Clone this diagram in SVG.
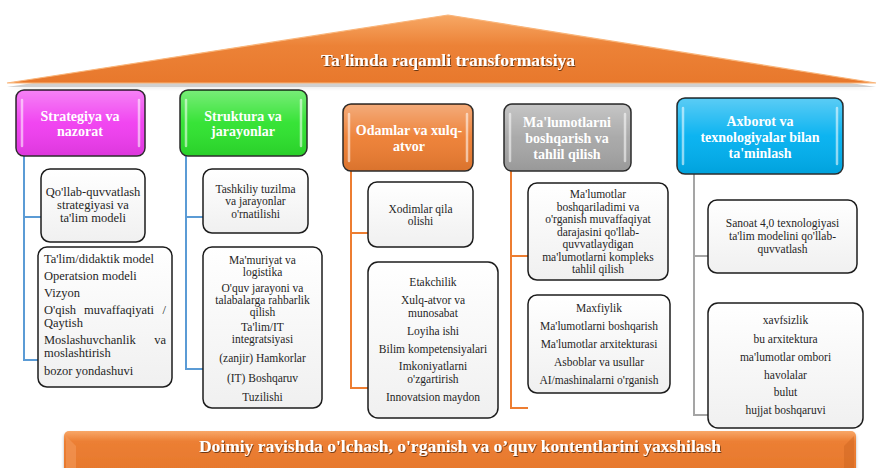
<svg xmlns="http://www.w3.org/2000/svg" width="878" height="468" viewBox="0 0 878 468">
<defs>
<linearGradient id="roofG" x1="0" y1="0" x2="0" y2="1">
<stop offset="0" stop-color="#f7a865"/><stop offset="0.45" stop-color="#ec8237"/><stop offset="1" stop-color="#e8782c"/>
</linearGradient>
<linearGradient id="banG" x1="0" y1="0" x2="0" y2="1">
<stop offset="0" stop-color="#f8a768"/><stop offset="0.25" stop-color="#ec7f34"/><stop offset="1" stop-color="#e6772b"/>
</linearGradient>
<linearGradient id="boxG" x1="0" y1="0" x2="0" y2="1">
<stop offset="0" stop-color="#ffffff"/><stop offset="1" stop-color="#f0f0f0"/>
</linearGradient>
<linearGradient id="gloss" x1="0" y1="0" x2="0" y2="1">
<stop offset="0" stop-color="#ffffff" stop-opacity="0.35"/><stop offset="0.5" stop-color="#ffffff" stop-opacity="0.05"/><stop offset="1" stop-color="#000000" stop-opacity="0.08"/>
</linearGradient>
<filter id="ts" x="-10%" y="-30%" width="120%" height="160%">
<feDropShadow dx="0.8" dy="1" stdDeviation="0.6" flood-color="#000" flood-opacity="0.55"/>
</filter>
<filter id="sh" x="-10%" y="-10%" width="120%" height="130%">
<feDropShadow dx="0" dy="2" stdDeviation="1.5" flood-color="#000" flood-opacity="0.3"/>
</filter>
</defs>
<style>
.hd{stroke:#2b2b2b;stroke-width:1.5}
.hl{fill:none;stroke:#ffffff;stroke-opacity:0.55;stroke-width:2.5;stroke-linecap:round}
.ht{font-family:"Liberation Serif","Times New Roman",serif;font-weight:bold;font-size:14px;fill:#ffffff;text-anchor:middle;dominant-baseline:central}
.bx{fill:url(#boxG);stroke:#1c1c1c;stroke-width:1.5}
.bt{font-family:"Liberation Serif","Times New Roman",serif;font-size:11.5px;fill:#262626;text-anchor:middle;dominant-baseline:central}
.b1{font-size:12.5px}
.bl{text-anchor:start}
.br{text-anchor:end}
.cb{fill:none;stroke:#5b9bd5;stroke-width:2}
.co{fill:none;stroke:#ed7d31;stroke-width:2}
.cg{fill:none;stroke:#a5a5a5;stroke-width:2}
.big{font-family:"Liberation Serif","Times New Roman",serif;font-weight:bold;fill:#ffffff;text-anchor:middle;dominant-baseline:central}
</style>
<rect width="878" height="468" fill="#ffffff"/>

<g id="roof">
<polygon points="7,84 448,16 876,84" fill="#000" opacity="0.18" transform="translate(0,3)" filter="url(#sh)"/>
<polygon points="7,83 448,15 876,83" fill="url(#roofG)" stroke="#f9b57a" stroke-width="1.2"/>
<text class="big" x="448" y="60" font-size="17.5" filter="url(#ts)">Ta'limda raqamli transformatsiya</text>
</g>

<g id="connectors">
<path class="cb" d="M24,156 V360 H38 M24,217 H41"/>
<path class="cb" d="M186,156 V369 H203 M186,217 H203"/>
<path class="co" d="M351,171 V388 H368 M351,233 H368"/>
<path class="co" d="M511,171 V408 H528 M511,256 H528"/>
<path class="cg" d="M694,174 V415 H708 M694,256 H708"/>
</g>

<g id="h1">
<rect class="hd" x="16" y="90" width="129" height="66" rx="8" fill="#f03cf0"/>
<rect x="17" y="91" width="127" height="64" rx="7" fill="url(#gloss)"/>
<path class="hl" d="M22,100 V146 M139,100 V146"/>
<text class="ht" x="80" y="116">Strategiya va</text>
<text class="ht" x="80" y="131">nazorat</text>
</g>
<g id="h2">
<rect class="hd" x="180" y="90" width="127" height="66" rx="8" fill="#2de22d"/>
<rect x="181" y="91" width="125" height="64" rx="7" fill="url(#gloss)"/>
<path class="hl" d="M186,100 V146 M301,100 V146"/>
<text class="ht" x="243" y="116">Struktura va</text>
<text class="ht" x="243" y="131">jarayonlar</text>
</g>
<g id="h3">
<rect class="hd" x="343" y="104" width="130" height="67" rx="8" fill="#ed7d31"/>
<rect x="344" y="105" width="128" height="65" rx="7" fill="url(#gloss)"/>
<path class="hl" d="M349,114 V161 M467,114 V161"/>
<text class="ht" x="409" y="130">Odamlar va xulq-</text>
<text class="ht" x="409" y="146">atvor</text>
</g>
<g id="h4">
<rect class="hd" x="504" y="104" width="127" height="67" rx="8" fill="#a6a6a6"/>
<rect x="505" y="105" width="125" height="65" rx="7" fill="url(#gloss)"/>
<path class="hl" d="M510,114 V161 M625,114 V161"/>
<text class="ht" x="567" y="122">Ma'lumotlarni</text>
<text class="ht" x="567" y="138">boshqarish va</text>
<text class="ht" x="567" y="154">tahlil qilish</text>
</g>
<g id="h5">
<rect class="hd" x="677" y="98" width="166" height="76" rx="8" fill="#00b0f0"/>
<rect x="678" y="99" width="164" height="74" rx="7" fill="url(#gloss)"/>
<path class="hl" d="M683,108 V164 M837,108 V164"/>
<text class="ht" x="760" y="121">Axborot va</text>
<text class="ht" x="760" y="137">texnologiyalar bilan</text>
<text class="ht" x="760" y="153">ta'minlash</text>
</g>

<g id="c1b1">
<rect class="bx" x="41" y="169" width="104" height="73" rx="9"/>
<text class="bt b1" x="93" y="192">Qo'llab-quvvatlash</text>
<text class="bt b1" x="93" y="205">strategiyasi va</text>
<text class="bt b1" x="93" y="218">ta'lim modeli</text>
</g>
<g id="c1b2">
<rect class="bx" x="38" y="247" width="134" height="140" rx="9"/>
<text class="bt b1 bl" x="44" y="259">Ta'lim/didaktik model</text>
<text class="bt b1 bl" x="44" y="276">Operatsion modeli</text>
<text class="bt b1 bl" x="44" y="293">Vizyon</text>
<text class="bt b1 bl" x="44" y="310">O'qish</text>
<text class="bt b1" x="119" y="310">muvaffaqiyati</text>
<text class="bt b1 br" x="166" y="310">/</text>
<text class="bt b1 bl" x="44" y="323">Qaytish</text>
<text class="bt b1 bl" x="44" y="340">Moslashuvchanlik</text>
<text class="bt b1 br" x="166" y="340">va</text>
<text class="bt b1 bl" x="44" y="353">moslashtirish</text>
<text class="bt b1 bl" x="44" y="371">bozor yondashuvi</text>
</g>

<g id="c2b1">
<rect class="bx" x="203" y="169" width="105" height="64" rx="9"/>
<text class="bt" x="255.5" y="188.5">Tashkiliy tuzilma</text>
<text class="bt" x="255.5" y="201">va jarayonlar</text>
<text class="bt" x="255.5" y="213.5">o'rnatilishi</text>
</g>
<g id="c2b2">
<rect class="bx" x="203" y="247" width="119" height="161" rx="9"/>
<text class="bt" x="262.5" y="260">Ma'muriyat va</text>
<text class="bt" x="262.5" y="272">logistika</text>
<text class="bt" x="262.5" y="288">O'quv jarayoni va</text>
<text class="bt" x="262.5" y="300">talabalarga rahbarlik</text>
<text class="bt" x="262.5" y="312">qilish</text>
<text class="bt" x="262.5" y="327">Ta'lim/IT</text>
<text class="bt" x="262.5" y="339">integratsiyasi</text>
<text class="bt" x="262.5" y="358">(zanjir) Hamkorlar</text>
<text class="bt" x="262.5" y="378">(IT) Boshqaruv</text>
<text class="bt" x="262.5" y="397">Tuzilishi</text>
</g>

<g id="c3b1">
<rect class="bx" x="368" y="182" width="105" height="65" rx="9"/>
<text class="bt" x="420.5" y="209">Xodimlar qila</text>
<text class="bt" x="420.5" y="221">olishi</text>
</g>
<g id="c3b2">
<rect class="bx" x="368" y="262" width="130" height="156" rx="10"/>
<text class="bt" x="433" y="282">Etakchilik</text>
<text class="bt" x="433" y="300">Xulq-atvor va</text>
<text class="bt" x="433" y="313">munosabat</text>
<text class="bt" x="433" y="331">Loyiha ishi</text>
<text class="bt" x="433" y="349">Bilim kompetensiyalari</text>
<text class="bt" x="433" y="366">Imkoniyatlarni</text>
<text class="bt" x="433" y="379">o'zgartirish</text>
<text class="bt" x="433" y="397">Innovatsion maydon</text>
</g>

<g id="c4b1">
<rect class="bx" x="528" y="183" width="140" height="97" rx="9"/>
<text class="bt" x="598" y="194">Ma'lumotlar</text>
<text class="bt" x="598" y="206.5">boshqariladimi va</text>
<text class="bt" x="598" y="219">o'rganish muvaffaqiyat</text>
<text class="bt" x="598" y="231.5">darajasini qo'llab-</text>
<text class="bt" x="598" y="244">quvvatlaydigan</text>
<text class="bt" x="598" y="256.5">ma'lumotlarni kompleks</text>
<text class="bt" x="598" y="269">tahlil qilish</text>
</g>
<g id="c4b2">
<rect class="bx" x="528" y="295" width="142" height="98" rx="9"/>
<text class="bt" x="599" y="308">Maxfiylik</text>
<text class="bt" x="599" y="326">Ma'lumotlarni boshqarish</text>
<text class="bt" x="599" y="344">Ma'lumotlar arxitekturasi</text>
<text class="bt" x="599" y="362">Asboblar va usullar</text>
<text class="bt" x="599" y="380">AI/mashinalarni o'rganish</text>
</g>

<g id="c5b1">
<rect class="bx" x="708" y="200" width="149" height="73" rx="9"/>
<text class="bt" x="782.5" y="223">Sanoat 4,0 texnologiyasi</text>
<text class="bt" x="782.5" y="236">ta'lim modelini qo'llab-</text>
<text class="bt" x="782.5" y="249">quvvatlash</text>
</g>
<g id="c5b2">
<rect class="bx" x="708" y="303" width="155" height="125" rx="10"/>
<text class="bt" x="785.5" y="320">xavfsizlik</text>
<text class="bt" x="785.5" y="339">bu arxitektura</text>
<text class="bt" x="785.5" y="357">ma'lumotlar ombori</text>
<text class="bt" x="785.5" y="375">havolalar</text>
<text class="bt" x="785.5" y="392">bulut</text>
<text class="bt" x="785.5" y="410">hujjat boshqaruvi</text>
</g>

<g id="banner">
<rect x="64" y="431" width="792" height="42" rx="5" fill="url(#banG)" filter="url(#sh)"/>
<path d="M66,436 L76,446 V468 H66 Z" fill="#f49a5a" opacity="0.6"/>
<path d="M854,436 L844,446 V468 H854 Z" fill="#c9621f" opacity="0.4"/>
<text class="big" x="460" y="446" font-size="17.5" filter="url(#ts)">Doimiy ravishda o'lchash, o'rganish va o’quv kontentlarini yaxshilash</text>
</g>
</svg>
